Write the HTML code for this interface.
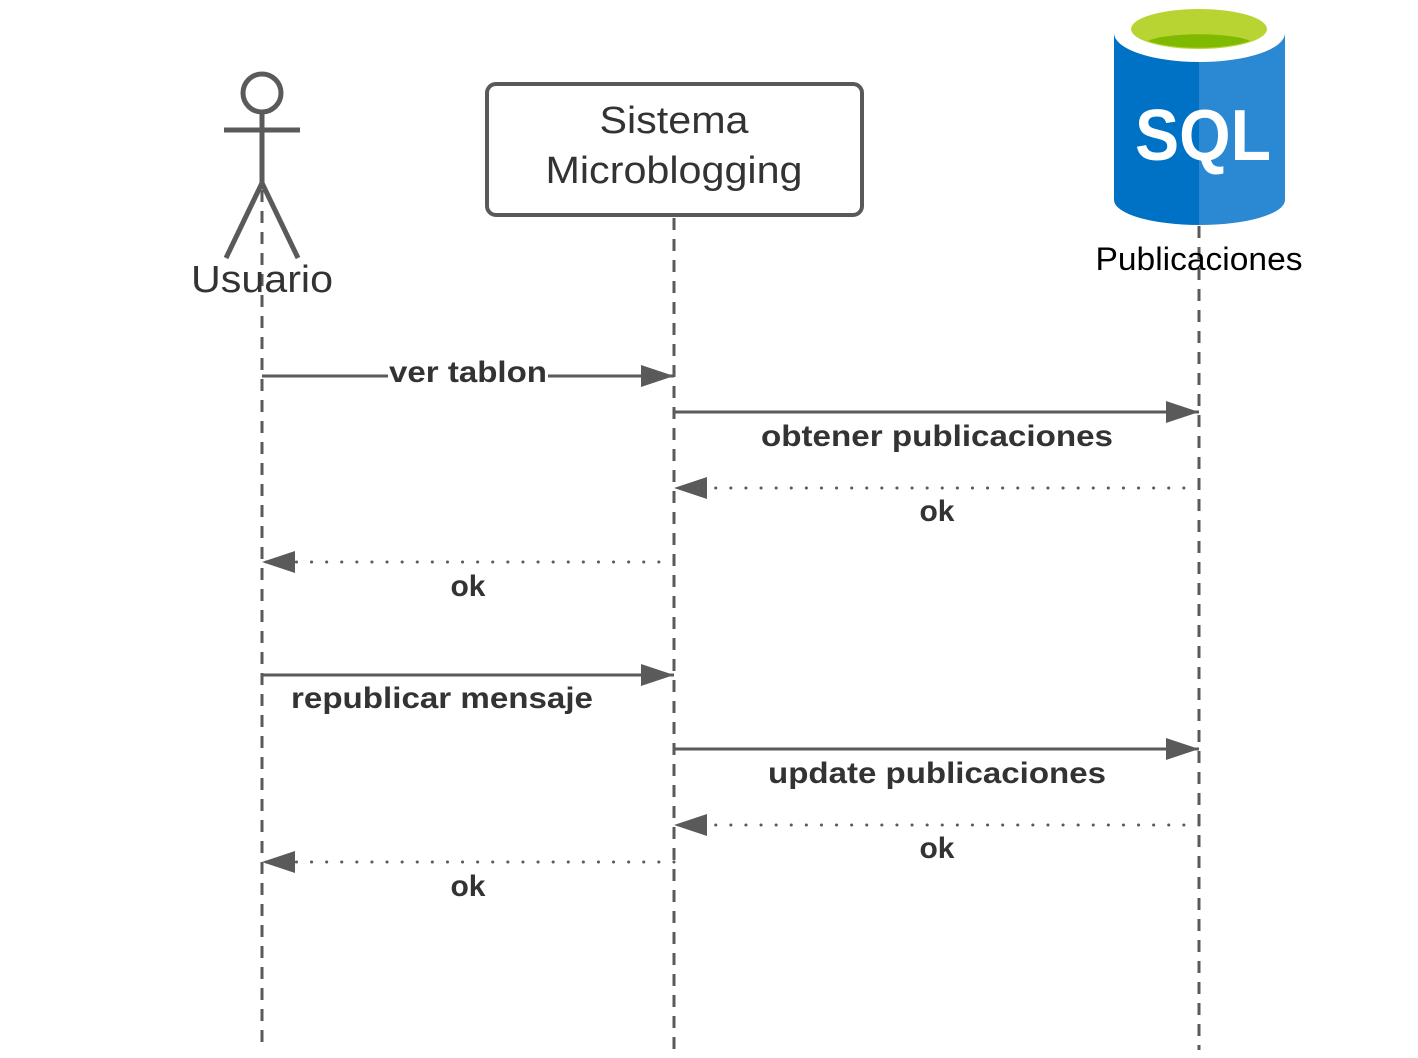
<!DOCTYPE html>
<html><head><meta charset="utf-8"><style>html,body{margin:0;padding:0;background:#fff}svg{display:block}</style></head>
<body>
<svg width="1418" height="1058" viewBox="0 0 1418 1058" xmlns="http://www.w3.org/2000/svg" font-family="Liberation Sans, sans-serif">
<defs>
<marker id="ah" markerWidth="34" markerHeight="24" refX="33" refY="12" markerUnits="userSpaceOnUse" orient="auto">
<path d="M0,1 L33,12 L0,23 Z" fill="#5a5a5a"/>
</marker>
</defs>
<g stroke="#5a5a5a" stroke-width="3" stroke-dasharray="12,9" fill="none">
<line x1="262" y1="190" x2="262" y2="1050"/>
<line x1="674" y1="218" x2="674" y2="1058"/>
<line x1="1199" y1="226" x2="1199" y2="1050"/>
</g>
<!-- actor -->
<g stroke="#5a5a5a" stroke-width="5" fill="none">
<circle cx="262" cy="93" r="19"/>
<line x1="224" y1="130" x2="300" y2="130"/>
<line x1="262" y1="112" x2="262" y2="183"/>
<line x1="262" y1="183" x2="226" y2="258"/>
<line x1="262" y1="183" x2="298" y2="258"/>
</g>
<text x="262" y="292" text-anchor="middle" font-size="38" fill="#333" textLength="142" lengthAdjust="spacingAndGlyphs">Usuario</text>
<!-- box -->
<rect x="487" y="84" width="375" height="131" rx="9" fill="#fff" stroke="#595959" stroke-width="4"/>
<text x="674" y="133" text-anchor="middle" font-size="38" fill="#333" textLength="149" lengthAdjust="spacingAndGlyphs">Sistema</text>
<text x="674" y="183" text-anchor="middle" font-size="38" fill="#333" textLength="257" lengthAdjust="spacingAndGlyphs">Microblogging</text>
<!-- SQL cylinder -->
<path d="M1114,33 L1114,200 A85.5,25 0 0 0 1199,225 L1199,33 Z" fill="#0072c6"/>
<path d="M1199,33 L1199,225 A85.5,25 0 0 0 1285,200 L1285,33 Z" fill="#2a89d2"/>
<ellipse cx="1199.5" cy="33" rx="85.5" ry="29" fill="#fff"/>
<ellipse cx="1199" cy="29" rx="68" ry="20" fill="#b8d432"/>
<path d="M1148,41 A54,10 0 0 1 1250,41 A68,20 0 0 1 1148,41 Z" fill="#7fba00"/>
<text x="1203" y="160" text-anchor="middle" font-size="72" font-weight="bold" fill="#fff" textLength="136" lengthAdjust="spacingAndGlyphs">SQL</text>
<text x="1199" y="270" text-anchor="middle" font-size="32" fill="#000" textLength="207" lengthAdjust="spacingAndGlyphs">Publicaciones</text>
<!-- messages -->
<g stroke="#5a5a5a" stroke-width="3" fill="none">
<line x1="262" y1="376" x2="674" y2="376" marker-end="url(#ah)"/>
<line x1="674" y1="412" x2="1199" y2="412" marker-end="url(#ah)"/>
<line x1="674" y1="675" x2="262" y2="675" transform="rotate(180 468 675)" marker-end="url(#ah)"/>
<line x1="674" y1="749" x2="1199" y2="749" marker-end="url(#ah)"/>
</g>
<g stroke="#5a5a5a" stroke-width="3" stroke-linecap="round" stroke-dasharray="0.1,15" fill="none">
<line x1="1199" y1="488" x2="674" y2="488" marker-end="url(#ah)"/>
<line x1="674" y1="562" x2="262" y2="562" marker-end="url(#ah)"/>
<line x1="1199" y1="825" x2="674" y2="825" marker-end="url(#ah)"/>
<line x1="674" y1="862" x2="262" y2="862" marker-end="url(#ah)"/>
</g>
<g font-size="30" font-weight="bold" fill="#333" text-anchor="middle">
<rect x="388" y="358" width="160" height="30" fill="#fff"/>
<text x="468" y="382" textLength="158" lengthAdjust="spacingAndGlyphs">ver tablon</text>
<text x="937" y="446" textLength="352" lengthAdjust="spacingAndGlyphs">obtener publicaciones</text>
<text x="937" y="521">ok</text>
<text x="468" y="596">ok</text>
<text x="442" y="708" textLength="302" lengthAdjust="spacingAndGlyphs">republicar mensaje</text>
<text x="937" y="783" textLength="338" lengthAdjust="spacingAndGlyphs">update publicaciones</text>
<text x="937" y="858">ok</text>
<text x="468" y="896">ok</text>
</g>
</svg>
</body></html>
